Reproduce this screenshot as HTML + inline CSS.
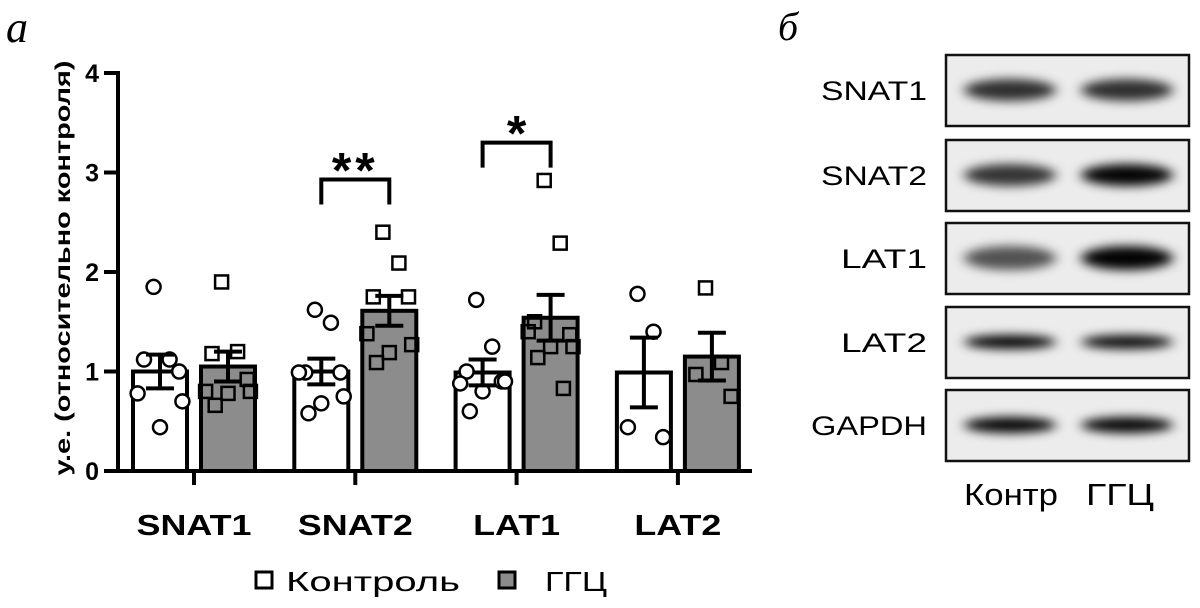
<!DOCTYPE html>
<html><head><meta charset="utf-8"><style>
body{margin:0;background:#fff}
svg{display:block;font-family:"Liberation Sans",sans-serif}
</style></head><body>
<svg id="fig" width="1200" height="608" viewBox="0 0 1200 608">
<defs><filter id="blur" x="-30%" y="-100%" width="160%" height="300%"><feGaussianBlur stdDeviation="6 5"/></filter></defs>
<text x="6" y="42" font-family="Liberation Serif,serif" font-style="italic" font-size="44">a</text>
<text x="778" y="40" font-family="Liberation Serif,serif" font-style="italic" font-size="40">б</text>
<g id="chart"></g>
<g id="blot"></g>
</svg>
<script>
const categories=["SNAT1","SNAT2","LAT1","LAT2"];
const ctrlMean=[1.0,1.0,0.99,0.99];
const ctrlErr=[0.17,0.13,0.13,0.35];
const ggcMean=[1.05,1.61,1.54,1.15];
const ggcErr=[0.15,0.15,0.23,0.24];
const ctrlPoints=[[1.85,1.12,1.12,1.0,0.78,0.7,0.44],[1.62,1.49,0.99,0.99,0.99,0.75,0.68,0.58],[1.72,1.25,1.0,0.9,0.88,0.9,0.8,0.6],[1.78,1.4,0.44,0.34]];
const ggcPoints=[[1.9,1.2,1.18,0.92,0.8,0.8,0.78,0.66],[2.4,2.09,1.75,1.75,1.38,1.27,1.19,1.09],[2.92,2.29,1.5,1.37,1.4,1.25,1.25,1.14,0.83],[1.84,1.09,0.97,0.75]];
const yTicks=[0,1,2,3,4];
const sigPairs=[[1,"**"],[2,"*"]];
const sigHeight=[2.93,3.3];
const NS="http://www.w3.org/2000/svg";
const chart=document.getElementById('chart');
function mk(tag,attrs,parent){const e=document.createElementNS(NS,tag);for(const k in attrs)e.setAttribute(k,attrs[k]);(parent||chart).appendChild(e);return e;}
const y0=471,ppu=99.5;
const y=v=>y0-v*ppu;
const groupX=i=>194+i*161.3;
const barW=54;
let e;
e=mk('line',{x1:118,y1:y(0),x2:752,y2:y(0),stroke:'#000','stroke-width':4});


e=mk('line',{x1:118,y1:y(0)+2,x2:118,y2:y(4)-2,stroke:'#000','stroke-width':4});


yTicks.forEach(t=>{
 e=mk('line',{x1:104,y1:y(t),x2:118,y2:y(t),stroke:'#000','stroke-width':4});
 
 
 e=mk('text',{x:99,y:y(t)+9,'text-anchor':'end','font-size':25,'font-weight':'bold'});e.textContent=t;
 
 
});
e=mk('text',{x:0,y:0,transform:'translate(70,268) rotate(-90)','text-anchor':'middle','font-size':21,'font-weight':'bold',textLength:415,lengthAdjust:'spacingAndGlyphs'});
e.textContent='у.е. (относительно контроля)';


categories.forEach((c,i)=>{
 const tx=groupX(i);
 e=mk('line',{x1:tx,y1:y(0),x2:tx,y2:y(0)+14,stroke:'#000','stroke-width':4});
 
 
});
const offs=[-4,6,-10,12,-14,14,0,-8,8];
categories.forEach((c,i)=>{
 const gx=groupX(i);
 [[ctrlMean,ctrlErr,ctrlPoints,'#fff',-1,'circle'],[ggcMean,ggcErr,ggcPoints,'#8c8c8c',1,'square']].forEach(([m,er,pts,fill,side,shape])=>{
  const cx=gx+side*34;
  e=mk('rect',{x:cx-barW/2,y:y(m[i]),width:barW,height:y(0)-y(m[i]),fill:fill,stroke:'#000','stroke-width':4});
  
  
  pts[i].forEach((v,k)=>{
   const px=cx+offs[k%offs.length]*1.6;
   if(shape==='circle'){e=mk('circle',{cx:px,cy:y(v),r:7,fill:'#fff',stroke:'#000','stroke-width':2.5});}
   else{e=mk('rect',{x:px-6.5,y:y(v)-6.5,width:13,height:13,fill:'none',stroke:'#000','stroke-width':2.5});}
   
   
  });
  e=mk('path',{d:`M${cx} ${y(m[i]-er[i])}V${y(m[i]+er[i])}M${cx-14} ${y(m[i]+er[i])}H${cx+14}M${cx-14} ${y(m[i]-er[i])}H${cx+14}`,stroke:'#000','stroke-width':4,fill:'none'});
  
  
 });
 e=mk('text',{x:gx,y:535,'text-anchor':'middle','font-size':29,'font-weight':'bold',textLength:c.startsWith('S')?115:87,lengthAdjust:'spacingAndGlyphs'});
 e.textContent=c;
 
 
});
sigPairs.forEach(([i,s],k)=>{
 const x1=groupX(i)-34,x2=groupX(i)+34,h=y(sigHeight[k]);
 e=mk('path',{d:`M${x1} ${h+25}V${h}H${x2}V${h+25}`,stroke:'#000','stroke-width':4,fill:'none'});
 
 
 e=mk('text',{x:groupX(i),y:h+8,'text-anchor':'middle','font-size':50,'font-weight':'bold','letter-spacing':s.length>1?4:0});
 e.textContent=s;
 
 
});
e=mk('rect',{x:256,y:572,width:16,height:16,fill:'#fff',stroke:'#000','stroke-width':3});


e=mk('text',{x:286,y:591,'font-size':28,textLength:174,lengthAdjust:'spacingAndGlyphs'});e.textContent='Контроль';


e=mk('rect',{x:499,y:572,width:16,height:16,fill:'#8c8c8c',stroke:'#000','stroke-width':3});


e=mk('text',{x:545,y:591,'font-size':28,textLength:62,lengthAdjust:'spacingAndGlyphs'});e.textContent='ГГЦ';



const blot=document.getElementById('blot');
const proteins=["SNAT1","SNAT2","LAT1","LAT2","GAPDH"];
const rowTop=[55,140,223,307,390];
const lane1=[0.8,0.78,0.65,0.98,0.98];
const lane2=[0.8,0.98,0.99,0.95,0.98];
const bandH=[22,22,24,14,16];
const labelW=[106,106,86,86,116];
proteins.forEach((p,i)=>{
 const t=rowTop[i];
 let b=mk('rect',{x:946,y:t,width:243,height:71,fill:'#ececec',stroke:'none'},blot);
 
 
 [[1010,lane1[i]],[1127,lane2[i]]].forEach(([cx,v])=>{
  b=mk('ellipse',{cx:cx,cy:t+35,rx:46,ry:bandH[i]/2,fill:'#000','fill-opacity':v,filter:'url(#blur)'},blot);
  
  
 });
 b=mk('rect',{x:946,y:t,width:243,height:71,fill:'none',stroke:'#111','stroke-width':2.5},blot);
 
 
 b=mk('text',{x:927,y:t+45,'text-anchor':'end','font-size':27,textLength:labelW[i],lengthAdjust:'spacingAndGlyphs'},blot);
 b.textContent=p;
 
 
});
let b=mk('text',{x:1011,y:505,'text-anchor':'middle','font-size':31,textLength:94,lengthAdjust:'spacingAndGlyphs'},blot);b.textContent='Контр';


b=mk('text',{x:1120,y:505,'text-anchor':'middle','font-size':31,textLength:68,lengthAdjust:'spacingAndGlyphs'},blot);b.textContent='ГГЦ';


</script>
</body></html>
